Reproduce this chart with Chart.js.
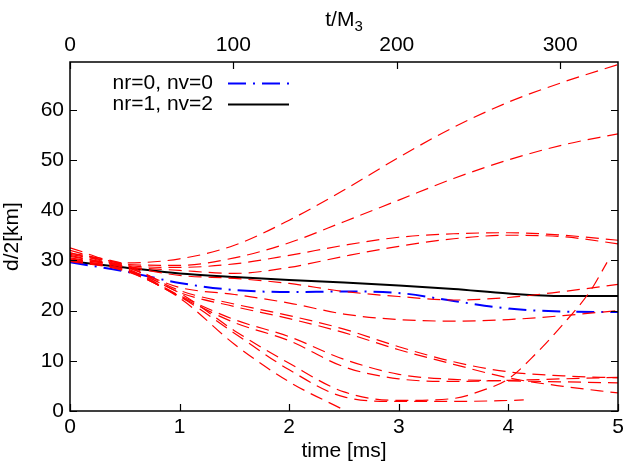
<!DOCTYPE html>
<html>
<head>
<meta charset="utf-8">
<script src="https://cdn.jsdelivr.net/npm/chart.js@4.4.1/dist/chart.umd.min.js"></script>
<style>
  html, body { margin: 0; padding: 0; background: #fff; }
  #wrap { width: 623px; height: 464px; }
</style>
</head>
<body>
<div id="wrap"><canvas id="chartContainer" width="623" height="464"></canvas></div>
<script>
// time samples [ms]
var T = [0, 0.5, 1, 1.5, 2, 2.5, 3, 3.5, 4, 4.5, 5];

// tick values
var timeTicks = [0, 1, 2, 3, 4, 5];
var tMTicks = [0, 100, 200, 300];
var dTicks = [0, 10, 20, 30, 40, 50, 60];

// reference runs
var nr0nv0 = [29.6, 27.8, 25.5, 24.1, 23.7, 23.8, 23.5, 21.9, 20.4, 19.8, 19.7];
var nr1nv2 = [29.8, 28.6, 27.4, 26.7, 26.1, 25.6, 25.0, 24.3, 23.4, 22.9, 22.9];

// perturbed runs (red dashed)
var run1 = [32.5, 29.5, 30.3, 33.0, 38.0, 44.0, 50.5, 56.5, 61.5, 65.5, 69.0];
var run2 = [32.0, 29.2, 29.0, 30.5, 33.5, 37.7, 42.0, 46.3, 50.0, 53.0, 55.2];
var run3 = [31.5, 29.0, 28.6, 29.3, 31.0, 33.0, 34.6, 35.3, 35.5, 35.0, 34.0];
var run4 = [31.0, 28.8, 28.0, 27.4, 28.6, 30.8, 32.8, 34.3, 35.0, 34.7, 33.3];
var run5 = [30.5, 28.8, 27.0, 26.4, 25.4, 23.8, 22.8, 22.1, 22.6, 23.8, 25.2];
var run6 = [30.8, 28.7, 24.6, 23.2, 21.5, 19.3, 18.2, 17.9, 18.2, 19.0, 20.0];
var run7 = [31.5, 29.2, 24.0, 21.3, 19.0, 16.3, 12.8, 9.8, 7.8, 7.0, 6.6];
var run8 = [31.2, 29.0, 23.6, 20.8, 18.4, 15.6, 12.2, 9.3, 6.6, 4.9, 3.6];
var run9 = [30.3, 28.5, 23.0, 18.2, 14.8, 10.3, 7.3, 6.3, 6.0, 5.8, 5.6];
var run10 = [30.0, 28.2, 22.8, 17.6, 14.0, 8.8, 6.4, 5.9, 6.1, 6.4, 6.7];
var run11 = [30.0, 28.0, 22.5, 13.3, 5.8, 0.2];
var tRun12 = [0, 0.5, 1, 1.5, 2, 2.5, 3, 3.5, 3.75, 4, 4.25, 4.5, 4.75, 4.9];
var run12 = [30.2, 28.2, 23.5, 16.0, 9.5, 3.8, 2.1, 2.5, 4.0, 6.4, 11.4, 17.3, 24.0, 29.6];
var tRun13 = [0, 0.5, 1, 1.5, 2, 2.5, 3, 3.5, 4, 4.14];
var run13 = [29.8, 27.9, 22.8, 15.5, 8.2, 2.8, 1.9, 1.9, 2.1, 2.2];

var topMax = 335.4; // t/M3 at 5 ms

function pts(t, v) {
    return v.map(function(y, i) { return { x: t[i], y: y }; });
}

var redRuns = [
    pts(T, run1), pts(T, run2), pts(T, run3), pts(T, run4), pts(T, run5),
    pts(T, run6), pts(T, run7), pts(T, run8), pts(T, run9), pts(T, run10),
    pts(T, run11), pts(tRun12, run12), pts(tRun13, run13)
];

var FONT = '"Liberation Sans", Arial, Helvetica, sans-serif';

var datasets = [
    {
        label: 'nr=0, nv=0',
        data: pts(T, nr0nv0),
        borderColor: '#0000ff',
        borderWidth: 2,
        borderDash: [18, 7, 2, 7],
        order: 2
    },
    {
        label: 'nr=1, nv=2',
        data: pts(T, nr1nv2),
        borderColor: '#000000',
        borderWidth: 2,
        order: 2
    }
];
redRuns.forEach(function(d, i) {
    datasets.push({
        label: 'run' + (i + 1),
        data: d,
        borderColor: '#ff0000',
        borderWidth: 1.2,
        borderDash: [13, 7],
        order: 1
    });
});

// frame, inward ticks, legend and top title
var gnuplotFrame = {
    id: 'gnuplotFrame',
    afterDatasetsDraw: function(chart) {
        var ctx = chart.ctx;
        var a = chart.chartArea;
        var sx = chart.scales.x, sx2 = chart.scales.x2, sy = chart.scales.y;
        var tl = 7;
        ctx.save();
        ctx.strokeStyle = '#000';
        ctx.lineWidth = 1.2;
        ctx.beginPath();
        sx.ticks.forEach(function(t) {
            var p = Math.round(sx.getPixelForValue(t.value)) + 0.5;
            ctx.moveTo(p, a.bottom); ctx.lineTo(p, a.bottom - tl);
        });
        sx2.ticks.forEach(function(t) {
            var p = Math.round(sx2.getPixelForValue(t.value)) + 0.5;
            ctx.moveTo(p, a.top); ctx.lineTo(p, a.top + tl);
        });
        sy.ticks.forEach(function(t) {
            var p = Math.round(sy.getPixelForValue(t.value)) + 0.5;
            ctx.moveTo(a.left, p); ctx.lineTo(a.left + tl, p);
            ctx.moveTo(a.right, p); ctx.lineTo(a.right - tl, p);
        });
        ctx.stroke();
        ctx.lineWidth = 1.5;
        ctx.strokeRect(a.left, a.top, a.right - a.left, a.bottom - a.top);

        // legend
        ctx.font = '21px ' + FONT;
        ctx.fillStyle = '#000';
        ctx.textAlign = 'right';
        ctx.textBaseline = 'middle';
        var lx = 213, ly = [83, 104];
        [0, 1].forEach(function(i) {
            var ds = chart.data.datasets[i];
            ctx.fillText(ds.label, lx, ly[i]);
            ctx.beginPath();
            ctx.strokeStyle = ds.borderColor;
            ctx.lineWidth = ds.borderWidth;
            ctx.setLineDash(ds.borderDash || []);
            ctx.moveTo(228, ly[i] + 0.5);
            ctx.lineTo(289, ly[i] + 0.5);
            ctx.stroke();
        });
        ctx.setLineDash([]);

        // top axis title t/M3
        ctx.textAlign = 'left';
        ctx.textBaseline = 'alphabetic';
        ctx.fillStyle = '#000';
        var main = 't/M';
        ctx.font = '21px ' + FONT;
        var w = ctx.measureText(main).width;
        ctx.font = '15px ' + FONT;
        var w2 = ctx.measureText('3').width;
        var x0 = (a.left + a.right) / 2 - (w + w2) / 2;
        ctx.font = '21px ' + FONT;
        ctx.fillText(main, x0, 26);
        ctx.font = '15px ' + FONT;
        ctx.fillText('3', x0 + w, 31);
        ctx.restore();
    }
};

function fixedTicks(values) {
    return function(scale) {
        scale.ticks = values.map(function(v) { return { value: v }; });
    };
}

var ctx = document.getElementById('chartContainer').getContext('2d');
var myChart = new Chart(ctx, {
    type: 'line',
    data: { datasets: datasets },
    options: {
        responsive: false,
        animation: false,
        devicePixelRatio: 1,
        layout: { padding: { left: 0, right: 5, top: 0, bottom: 0 } },
        elements: {
            point: { radius: 0 },
            line: { cubicInterpolationMode: 'monotone', fill: false }
        },
        plugins: {
            legend: { display: false },
            tooltip: { enabled: false }
        },
        scales: {
            x: {
                type: 'linear',
                position: 'bottom',
                min: 0, max: 5,
                ticks: { autoSkip: false, color: '#000', font: { family: FONT, size: 21 }, padding: 4, maxRotation: 0 },
                grid: { display: false, drawTicks: false },
                border: { display: false },
                title: { display: true, text: 'time [ms]', color: '#000', font: { family: FONT, size: 21 }, padding: { top: 0, bottom: 0 } },
                afterBuildTicks: fixedTicks(timeTicks),
                afterFit: function(s) { s.height = 53; s.paddingLeft = 0; s.paddingRight = 0; }
            },
            x2: {
                type: 'linear',
                position: 'top',
                min: 0, max: topMax,
                ticks: { autoSkip: false, color: '#000', font: { family: FONT, size: 21 }, padding: 4, maxRotation: 0 },
                grid: { display: false, drawTicks: false },
                border: { display: false },
                afterBuildTicks: fixedTicks(tMTicks),
                afterFit: function(s) { s.height = 62; s.paddingLeft = 0; s.paddingRight = 0; }
            },
            y: {
                type: 'linear',
                min: 0, max: 69.5,
                ticks: { autoSkip: false, color: '#000', font: { family: FONT, size: 21 }, padding: 6 },
                grid: { display: false, drawTicks: false },
                border: { display: false },
                title: { display: true, text: 'd/2[km]', color: '#000', font: { family: FONT, size: 21 }, padding: { top: 0, bottom: 0 } },
                afterBuildTicks: fixedTicks(dTicks),
                afterFit: function(s) { s.width = 70; s.paddingTop = 0; s.paddingBottom = 0; }
            }
        }
    },
    plugins: [gnuplotFrame]
});
</script>
</body>
</html>
